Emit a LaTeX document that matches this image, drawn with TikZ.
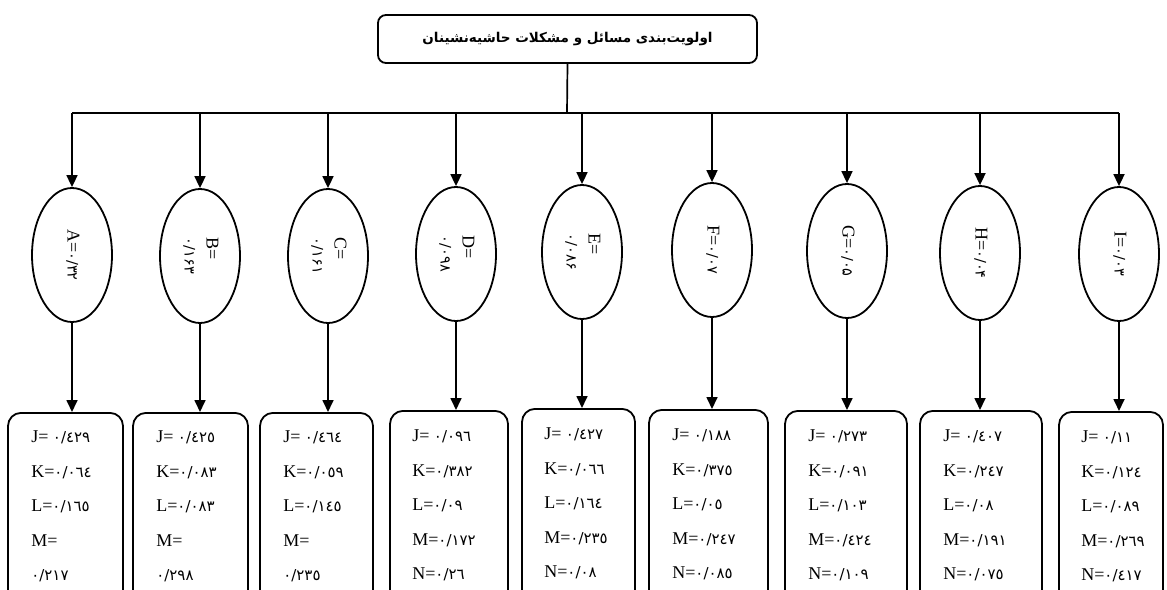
\documentclass[tikz,border=0pt]{standalone}
\usepackage{fontspec}
\usepackage{graphicx}
\setmainfont{Liberation Serif}
\newfontfamily\arabicfont[Script=Arabic]{DejaVu Sans}
\newfontfamily\digfont{DejaVu Sans}
\TeXXeTstate=1
\usetikzlibrary{arrows.meta,shapes.geometric}
\newcommand{\dg}[1]{{\digfont\fontsize{15}{15}\selectfont #1}}
\newcommand{\edg}[1]{{\digfont\fontsize{14.5}{14.5}\selectfont #1}}
\newcommand{\etxt}[1]{\rotatebox{-90}{\fontsize{18}{22}\selectfont\begin{tabular}{@{}l@{}}#1\end{tabular}}}
\begin{document}
\begin{tikzpicture}[x=1pt,y=-1pt,
  ell/.style={ellipse, draw, line width=1.8pt, minimum width=80pt, minimum height=134pt, inner sep=0pt},
  valbox/.style={draw, rounded corners=13pt, line width=1.8pt, minimum height=200pt, anchor=north, inner sep=0pt},
  vals/.style={anchor=north west, align=left, inner sep=0pt, font=\fontsize{18}{34.5}\selectfont},
  arr/.style={line width=1.7pt, -{Triangle[length=12pt,width=11pt]}},
  conn/.style={line width=1.7pt},
  titlebox/.style={draw, rounded corners=8pt, line width=1.8pt, minimum width=379pt, minimum height=48pt, inner sep=0pt}]
\useasboundingbox (0,0) rectangle (1167,589);

\node[titlebox] (title) at (567.5,39) {\arabicfont\bfseries\fontsize{13.5}{16}\selectfont\beginR اولویت^^^^200cبندی مسائل و مشکلات حاشیه^^^^200cنشینان\endR};

% ellipses
\node[ell] (eA) at (72,255) {\etxt{A=\edg{۰/۳۲}}};
\node[ell] (eB) at (200,256) {\etxt{B=\\ \edg{۰/۱۶۳}}};
\node[ell] (eC) at (328,256) {\etxt{C=\\ \edg{۰/۱۶۱}}};
\node[ell] (eD) at (456,254) {\etxt{D=\\ \edg{۰/۰۹۸}}};
\node[ell] (eE) at (582,252) {\etxt{E=\\ \edg{۰/۰۸۶}}};
\node[ell] (eF) at (712,250) {\etxt{F=\edg{۰/۰۷}}};
\node[ell] (eG) at (847,251) {\etxt{G=\edg{۰/۰۵}}};
\node[ell] (eH) at (980,253) {\etxt{H=\edg{۰/۰۴}}};
\node[ell] (eI) at (1119,254) {\etxt{I=\edg{۰/۰۳}}};

% value boxes
\node[valbox, minimum width=115pt] (bA) at (65.5,412) {};
\node[valbox, minimum width=115pt] (bB) at (190.5,412) {};
\node[valbox, minimum width=113pt] (bC) at (316.5,412) {};
\node[valbox, minimum width=118pt] (bD) at (449,410) {};
\node[valbox, minimum width=113pt] (bE) at (578.5,408) {};
\node[valbox, minimum width=119pt] (bF) at (708.5,409) {};
\node[valbox, minimum width=122pt] (bG) at (846,410) {};
\node[valbox, minimum width=122pt] (bH) at (981,410) {};
\node[valbox, minimum width=104pt] (bI) at (1111,411) {};

\node[vals] (tA) at ([xshift=24pt,yshift=-19pt]bA.north west) {J= \dg{٠/٤٢٩}\\ K=\dg{٠/٠٦٤}\\ L=\dg{٠/١٦٥}\\ M=\\ \dg{٠/٢١٧}};
\node[vals] (tB) at ([xshift=24pt,yshift=-19pt]bB.north west) {J= \dg{٠/٤٢٥}\\ K=\dg{٠/٠٨٣}\\ L=\dg{٠/٠٨٣}\\ M=\\ \dg{٠/٢٩٨}};
\node[vals] (tC) at ([xshift=24pt,yshift=-19pt]bC.north west) {J= \dg{٠/٤٦٤}\\ K=\dg{٠/٠٥٩}\\ L=\dg{٠/١٤٥}\\ M=\\ \dg{٠/٢٣٥}};
\node[vals] (tD) at ([xshift=23pt,yshift=-20pt]bD.north west) {J= \dg{٠/٠٩٦}\\ K=\dg{٠/٣٨٢}\\ L=\dg{٠/٠٩}\\ M=\dg{٠/١٧٢}\\ N=\dg{٠/٢٦}};
\node[vals] (tE) at ([xshift=23pt,yshift=-20pt]bE.north west) {J= \dg{٠/٤٢٧}\\ K=\dg{٠/٠٦٦}\\ L=\dg{٠/١٦٤}\\ M=\dg{٠/٢٣٥}\\ N=\dg{٠/٠٨}};
\node[vals] (tF) at ([xshift=24pt,yshift=-20pt]bF.north west) {J= \dg{٠/١٨٨}\\ K=\dg{٠/٣٧٥}\\ L=\dg{٠/٠٥}\\ M=\dg{٠/٢٤٧}\\ N=\dg{٠/٠٨٥}};
\node[vals] (tG) at ([xshift=24pt,yshift=-20pt]bG.north west) {J= \dg{٠/٢٧٣}\\ K=\dg{٠/٠٩١}\\ L=\dg{٠/١٠٣}\\ M=\dg{٠/٤٢٤}\\ N=\dg{٠/١٠٩}};
\node[vals] (tH) at ([xshift=24pt,yshift=-20pt]bH.north west) {J= \dg{٠/٤٠٧}\\ K=\dg{٠/٢٤٧}\\ L=\dg{٠/٠٨}\\ M=\dg{٠/١٩١}\\ N=\dg{٠/٠٧٥}};
\node[vals] (tI) at ([xshift=23pt,yshift=-20pt]bI.north west) {J= \dg{٠/١١}\\ K=\dg{٠/١٢٤}\\ L=\dg{٠/٠٨٩}\\ M=\dg{٠/٢٦٩}\\ N=\dg{٠/٤١٧}};

% connectors
\coordinate (bus) at (567,113);
\draw[conn] (title.south) -- (bus);
\draw[conn] (eA |- bus) -- (eI |- bus);
\foreach \n in {A,B,C,D,E,F,G,H,I}{
  \draw[arr] (e\n |- bus) -- (e\n.north);
  \draw[arr] (e\n.south) -- (e\n.south |- b\n.north);
}
\end{tikzpicture}
\end{document}
